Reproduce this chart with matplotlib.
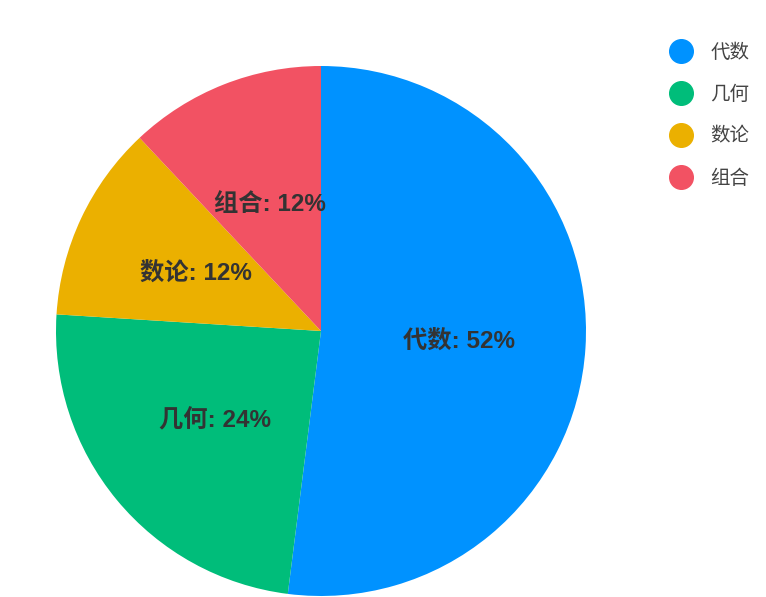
import numpy as np
import matplotlib.pyplot as plt
from matplotlib.lines import Line2D

plt.rcParams['font.family'] = ['Liberation Sans', 'Noto Sans CJK SC', 'DejaVu Sans']

subjects = ["代数", "几何", "数论", "组合"]
counts = [13, 6, 3, 3]
colors = ["#0092ff", "#00bd7a", "#ebb000", "#f25263"]

fig = plt.figure(figsize=(7.66, 5.97), dpi=100)
ax = fig.add_axes([(321 - 265) / 766, 1 / 597, 530 / 766, 530 / 597])

total = sum(counts)
wedges, texts = ax.pie(counts, colors=colors, startangle=90, counterclock=False,
                       radius=1, wedgeprops=dict(linewidth=0))
# labels inside the slices
for w, name, c in zip(wedges, subjects, counts):
    ang = np.deg2rad((w.theta1 + w.theta2) / 2)
    r = 0.52
    ax.text(r * np.cos(ang), r * np.sin(ang) - 0.008, f"{name}: {round(c / total * 100)}%",
            ha="center", va="center", fontsize=17.5, fontweight="bold", color="#333333")
ax.set_xlim(-1, 1)
ax.set_ylim(-1, 1)
ax.set_aspect("equal")
ax.axis("off")

handles = [Line2D([0], [0], marker="o", linestyle="", markersize=17,
                  markerfacecolor=c, markeredgecolor=c) for c in colors]
fig.legend(handles, subjects, loc="upper left", bbox_to_anchor=(644 / 766, 1 - 26 / 597),
           frameon=False, fontsize=14, labelspacing=1.22, handletextpad=0.5,
           labelcolor="#444444")

fig.savefig("out.png", dpi=100)
